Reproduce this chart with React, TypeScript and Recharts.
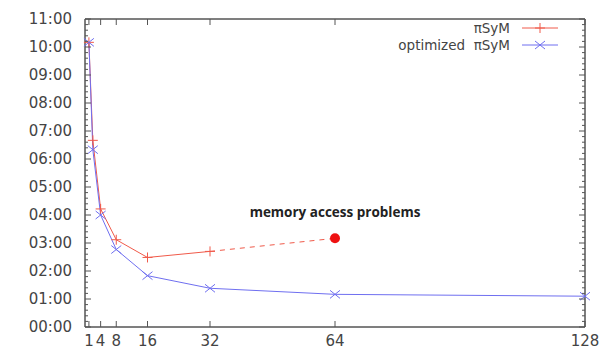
import React from 'react';
import {
  LineChart,
  Line,
  XAxis,
  YAxis,
  ReferenceDot,
  ReferenceArea,
} from 'recharts';

// threads on x, wall time in minutes on y
const threadTicks = [1, 4, 8, 16, 32, 64, 128];
const timeTicks = Array.from({ length: 56 }, (_, i) => i * 12); // minor tick every 12 min

const piSymThreads = [1, 2, 4, 8, 16, 32];
const piSymMinutes = [610, 400, 253, 187, 149, 162];

const optThreads = [1, 2, 4, 8, 16, 32, 64, 128];
const optMinutes = [610, 380, 240, 166, 110, 83, 70, 66];

const problemThreads = [32, 64];
const problemMinutes = [162, 190];

const RED = '#f05a4a';
const BLUE = '#6f6ff0';
const AXIS = '#555';
const FONT = '"DejaVu Sans", sans-serif';

const toRows = (xs: number[], ys: number[]) => xs.map((x, i) => ({ x, y: ys[i] }));

const piSymData = toRows(piSymThreads, piSymMinutes);
const optData = toRows(optThreads, optMinutes);
const problemData = toRows(problemThreads, problemMinutes);

const hhmm = (m: number) => {
  const h = Math.floor(m / 60);
  const mm = m % 60;
  return `${String(h).padStart(2, '0')}:${String(mm).padStart(2, '0')}`;
};

const Plus = ({ cx, cy, color }: any) => (
  <g stroke={color} strokeWidth={1}>
    <line x1={cx - 5} y1={cy} x2={cx + 5} y2={cy} />
    <line x1={cx} y1={cy - 5} x2={cx} y2={cy + 5} />
  </g>
);

const Cross = ({ cx, cy, color }: any) => (
  <g stroke={color} strokeWidth={1}>
    <line x1={cx - 5} y1={cy - 4} x2={cx + 5} y2={cy + 4} />
    <line x1={cx - 5} y1={cy + 4} x2={cx + 5} y2={cy - 4} />
  </g>
);

const LeftTick = ({ x, y, payload }: any) => {
  const major = payload.value % 60 === 0;
  const ax = x + 13;
  return (
    <g>
      <line x1={ax} y1={y} x2={ax + (major ? 6 : 3)} y2={y} stroke={AXIS} />
      {major && (
        <text x={x} y={y} dy={5} textAnchor="end" fill="#444" fontSize={15} fontFamily={FONT}>
          {hhmm(payload.value)}
        </text>
      )}
    </g>
  );
};

const RightTick = ({ x, y, payload }: any) => {
  const major = payload.value % 60 === 0;
  return <line x1={x} y1={y} x2={x - (major ? 6 : 3)} y2={y} stroke={AXIS} />;
};

const BottomTick = ({ x, y, payload }: any) => (
  <g>
    <line x1={x} y1={y} x2={x} y2={y - 6} stroke={AXIS} />
    <text x={x} y={y} dy={19} textAnchor="middle" fill="#444" fontSize={15} fontFamily={FONT}>
      {payload.value}
    </text>
  </g>
);

const TopTick = ({ x, y }: any) => <line x1={x} y1={y} x2={x} y2={y + 6} stroke={AXIS} />;

const legendRows = [
  { label: 'πSyM', color: RED, Marker: Plus },
  { label: 'optimized  πSyM', color: BLUE, Marker: Cross },
];

const LegendBox = () => (
  <div
    style={{
      position: 'absolute',
      top: 19,
      right: 52,
      fontFamily: FONT,
      fontSize: 13.5,
      color: '#444',
    }}
  >
    {legendRows.map(({ label, color, Marker }) => (
      <div key={label} style={{ display: 'flex', alignItems: 'center', justifyContent: 'flex-end', height: 17 }}>
        <span style={{ whiteSpace: 'pre' }}>{label}</span>
        <svg width={40} height={14} style={{ marginLeft: 10 }}>
          <line x1={2} y1={7} x2={38} y2={7} stroke={color} />
          <Marker cx={20} cy={7} color={color} />
        </svg>
      </div>
    ))}
  </div>
);

export default function App() {
  return (
    <div style={{ position: 'absolute', left: 0, top: 0, width: 612, height: 354, background: '#fff' }}>
      <LineChart width={612} height={354} margin={{ top: 18, right: 26, bottom: 0, left: 0 }}>
        <XAxis
          dataKey="x"
          type="number"
          domain={[0, 128]}
          ticks={threadTicks}
          interval={0}
          height={27}
          stroke={AXIS}
          tickSize={0}
          tickMargin={0}
          tickLine={false}
          tick={<BottomTick />}
        />
        <XAxis
          xAxisId="top"
          orientation="top"
          dataKey="x"
          type="number"
          domain={[0, 128]}
          ticks={threadTicks}
          interval={0}
          height={1}
          stroke={AXIS}
          tickSize={0}
          tickMargin={0}
          tickLine={false}
          tick={<TopTick />}
        />
        <YAxis
          type="number"
          domain={[0, 660]}
          ticks={timeTicks}
          interval={0}
          width={85}
          stroke={AXIS}
          tickSize={0}
          tickMargin={13}
          tickLine={false}
          tick={<LeftTick />}
        />
        <YAxis
          yAxisId="right"
          orientation="right"
          type="number"
          domain={[0, 660]}
          ticks={timeTicks}
          interval={0}
          width={1}
          stroke={AXIS}
          tickSize={0}
          tickMargin={0}
          tickLine={false}
          tick={<RightTick />}
        />
        <ReferenceArea x1={0} x2={128} y1={0} y2={660} fill="none" stroke={AXIS} strokeOpacity={1} />
        {/* invisible series so the mirrored border axes get drawn */}
        <Line
          xAxisId="top"
          yAxisId="right"
          data={optData}
          dataKey="y"
          stroke="none"
          dot={false}
          activeDot={false}
          legendType="none"
          isAnimationActive={false}
        />
        <Line
          data={problemData}
          dataKey="y"
          stroke={RED}
          strokeWidth={1}
          strokeDasharray="5 5"
          dot={false}
          legendType="none"
          isAnimationActive={false}
        />
        <Line
          data={piSymData}
          dataKey="y"
          name="πSyM"
          stroke={RED}
          strokeWidth={1}
          dot={(p: any) => <Plus key={p.index} cx={p.cx} cy={p.cy} color={RED} />}
          isAnimationActive={false}
        />
        <Line
          data={optData}
          dataKey="y"
          name="optimized πSyM"
          stroke={BLUE}
          strokeWidth={1}
          dot={(p: any) => <Cross key={p.index} cx={p.cx} cy={p.cy} color={BLUE} />}
          isAnimationActive={false}
        />
        <ReferenceDot
          x={problemThreads[1]}
          y={problemMinutes[1]}
          r={5}
          fill="#ee1111"
          stroke="none"
          label={{
            value: 'memory access problems',
            position: 'top',
            offset: 16,
            fill: '#222',
            fontSize: 13.5,
            fontWeight: 700,
            fontFamily: '"Open Sans", sans-serif',
          }}
        />
      </LineChart>
      <LegendBox />
    </div>
  );
}
